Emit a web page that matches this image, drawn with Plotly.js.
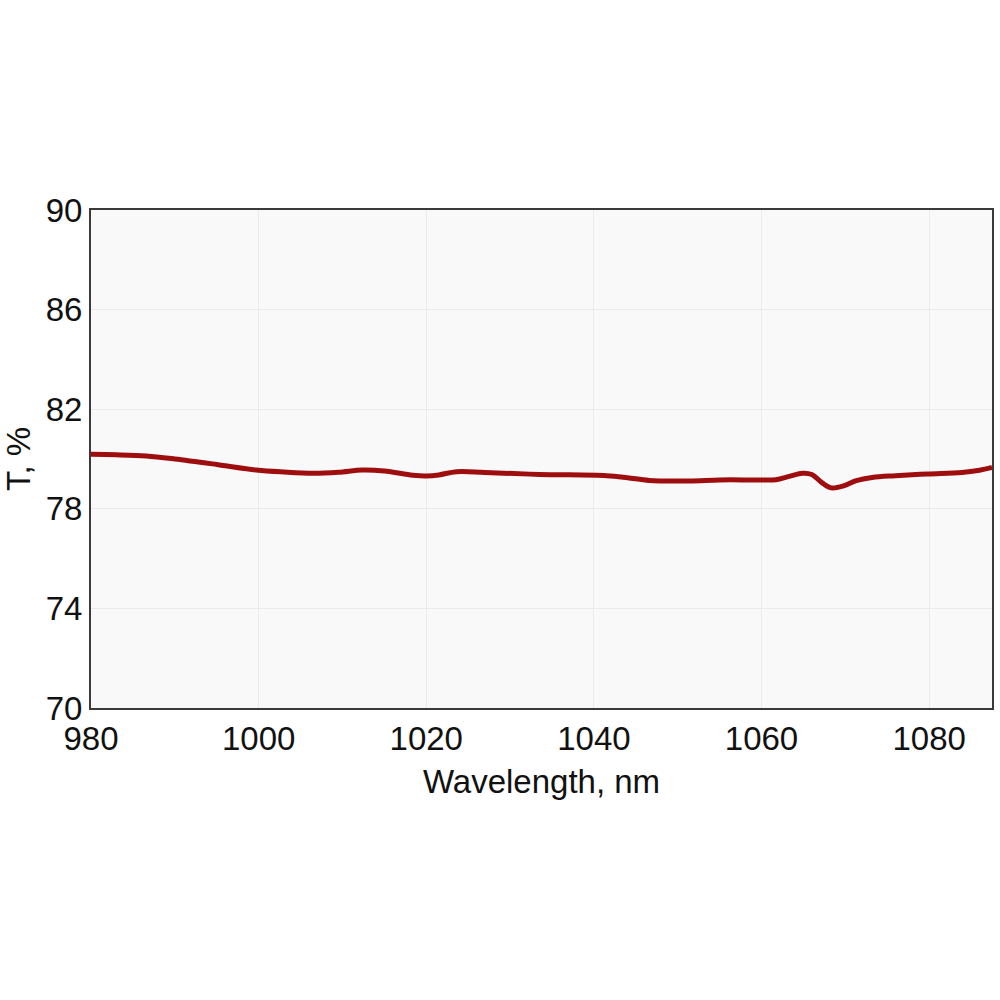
<!DOCTYPE html>
<html>
<head>
<meta charset="utf-8">
<script src="https://cdn.plot.ly/plotly-3.0.1.min.js"></script>
<style>html,body{margin:0;padding:0;background:#fff;}#chart{width:1000px;height:1000px;}</style>
</head>
<body>
<div id="chart"></div>
<script>
const wavelength = [980, 983, 986.6, 990, 995, 999.7, 1003, 1006.5, 1009.5, 1012.4, 1015, 1018.4, 1020, 1021.5, 1023.6, 1027, 1033.5, 1041.5, 1044, 1046.6, 1051.4, 1055, 1059.7, 1061.7, 1063.3, 1064.9, 1066, 1067.2, 1068.3, 1069.8, 1071.3, 1073.2, 1076, 1079.8, 1083.9, 1086, 1087.5];
const transmission = [80.19, 80.17, 80.12, 80.0, 79.78, 79.56, 79.48, 79.43, 79.47, 79.56, 79.52, 79.35, 79.32, 79.36, 79.49, 79.46, 79.38, 79.33, 79.25, 79.14, 79.12, 79.16, 79.16, 79.17, 79.3, 79.43, 79.38, 79.05, 78.84, 78.92, 79.13, 79.26, 79.33, 79.40, 79.46, 79.55, 79.66];
const xTicks = [980, 1000, 1020, 1040, 1060, 1080];
const yTicks = [70, 74, 78, 82, 86, 90];

const trace = {
  x: wavelength, y: transmission, type: 'scatter', mode: 'lines',
  line: {color: '#9f0e0e', width: 5, shape: 'spline', smoothing: 1},
  hoverinfo: 'skip'
};
const font = {family: 'Liberation Sans, Arial, sans-serif', size: 33, color: '#111111'};
const layout = {
  width: 1000, height: 1000,
  margin: {l: 91, r: 8, t: 210, b: 292},
  paper_bgcolor: '#ffffff', plot_bgcolor: '#f9f9fa',
  showlegend: false,
  font: font,
  xaxis: {
    range: [980, 1087.5], tickvals: xTicks, ticktext: xTicks.map(String),
    showgrid: true, gridcolor: '#ebebeb', gridwidth: 1,
    showline: true, linecolor: '#3a3a3a', linewidth: 2, mirror: true,
    ticks: '', ticklen: 0, zeroline: false,
    tickfont: font,
    title: {text: 'Wavelength, nm', font: font, standoff: 14}
  },
  yaxis: {
    range: [70, 90], tickvals: yTicks, ticktext: yTicks.map(String),
    showgrid: true, gridcolor: '#ebebeb', gridwidth: 1,
    showline: true, linecolor: '#3a3a3a', linewidth: 2, mirror: true,
    ticks: '', ticklen: 0, zeroline: false,
    tickfont: font,
    title: {text: 'T, %', font: font, standoff: 8}
  }
};
Plotly.newPlot('chart', [trace], layout, {staticPlot: true, displayModeBar: false});
</script>
</body>
</html>
